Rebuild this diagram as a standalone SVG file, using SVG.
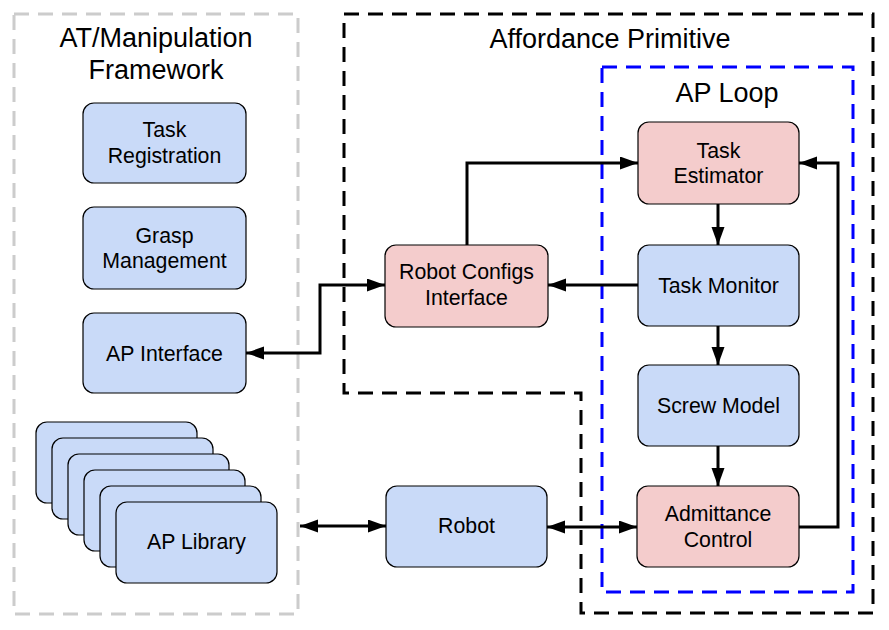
<svg xmlns="http://www.w3.org/2000/svg" width="889" height="630" viewBox="0 0 889 630">
<style>
text{font-family:"Liberation Sans",Arial,sans-serif;fill:#000;text-anchor:middle}
.t{font-size:21.3px}
.title{font-size:27px}
.blue{fill:#c9daf8;stroke:#000;stroke-width:1.2}
.pink{fill:#f4cccc;stroke:#000;stroke-width:1.2}
.conn{fill:none;stroke:#000;stroke-width:3}
.grp{fill:none;stroke-width:3;stroke-dasharray:15 9}
</style>
<defs>
<marker id="ah" markerUnits="userSpaceOnUse" markerWidth="19" markerHeight="14" refX="18" refY="6.5" orient="auto-start-reverse">
<path d="M0,0 L18,6.5 L0,13 z" fill="#000"/>
</marker>
</defs>
<rect width="889" height="630" fill="#fff"/>
<g id="framework">
<rect x="14" y="14" width="284" height="600" class="grp" stroke="#cccccc"/>
<text class="title" x="156" y="47">AT/Manipulation</text>
<text class="title" x="156" y="79">Framework</text>
</g>
<g id="affordance-primitive">
<path d="M344,14 H873 V613 H581 V393 H344 Z" class="grp" stroke="#000"/>
<text class="title" x="610" y="48" font-size="26.5">Affordance Primitive</text>
</g>
<g id="ap-loop">
<rect x="602" y="67" width="251" height="525" class="grp" stroke="#0000ff"/>
<text class="title" x="727" y="102">AP Loop</text>
</g>
<g id="task-registration">
<rect x="83" y="103" width="163" height="80" rx="11" class="blue"/>
<text class="t" x="164.5" y="137">Task</text>
<text class="t" x="164.5" y="163">Registration</text>
</g>
<g id="grasp-management">
<rect x="83" y="207" width="163" height="82" rx="11" class="blue"/>
<text class="t" x="164.5" y="243">Grasp</text>
<text class="t" x="164.5" y="268">Management</text>
</g>
<g id="ap-interface">
<rect x="83" y="313" width="163" height="80" rx="11" class="blue"/>
<text class="t" x="164.5" y="361">AP Interface</text>
</g>
<g id="ap-library">
<rect x="36" y="422" width="161" height="81" rx="11" class="blue"/>
<rect x="52" y="438" width="161" height="81" rx="11" class="blue"/>
<rect x="68" y="454" width="161" height="81" rx="11" class="blue"/>
<rect x="84" y="470" width="161" height="81" rx="11" class="blue"/>
<rect x="100" y="486" width="161" height="81" rx="11" class="blue"/>
<rect x="116" y="502" width="161" height="81" rx="11" class="blue"/>
<text class="t" x="196.5" y="549">AP Library</text>
</g>
<g id="robot-configs-interface">
<rect x="385" y="245" width="163" height="82" rx="11" class="pink"/>
<text class="t" x="466.5" y="279">Robot Configs</text>
<text class="t" x="466.5" y="305">Interface</text>
</g>
<g id="robot">
<rect x="386" y="486" width="161" height="81" rx="11" class="blue"/>
<text class="t" x="466.5" y="533">Robot</text>
</g>
<g id="task-estimator">
<rect x="638" y="122" width="161" height="82" rx="11" class="pink"/>
<text class="t" x="718.5" y="158">Task</text>
<text class="t" x="718.5" y="183">Estimator</text>
</g>
<g id="task-monitor">
<rect x="638" y="245" width="161" height="81" rx="11" class="blue"/>
<text class="t" x="718.5" y="293">Task Monitor</text>
</g>
<g id="screw-model">
<rect x="638" y="365" width="161" height="81" rx="11" class="blue"/>
<text class="t" x="718.5" y="413">Screw Model</text>
</g>
<g id="admittance-control">
<rect x="637" y="486" width="162" height="81" rx="11" class="pink"/>
<text class="t" x="718" y="521">Admittance</text>
<text class="t" x="718" y="547">Control</text>
</g>
<g id="connectors">
<path d="M467,245 V163 H638" class="conn" marker-end="url(#ah)"/>
<path d="M718,204 V245" class="conn" marker-end="url(#ah)"/>
<path d="M638,285 H548" class="conn" marker-end="url(#ah)"/>
<path d="M718,326 V365" class="conn" marker-end="url(#ah)"/>
<path d="M718,446 V486" class="conn" marker-end="url(#ah)"/>
<path d="M799,527 H838 V163 H799" class="conn" marker-end="url(#ah)"/>
<path d="M246,353 H320 V285 H385" class="conn" marker-start="url(#ah)" marker-end="url(#ah)"/>
<path d="M300,526 H386" class="conn" marker-start="url(#ah)" marker-end="url(#ah)"/>
<path d="M547,527 H637" class="conn" marker-start="url(#ah)" marker-end="url(#ah)"/>
</g>
</svg>
